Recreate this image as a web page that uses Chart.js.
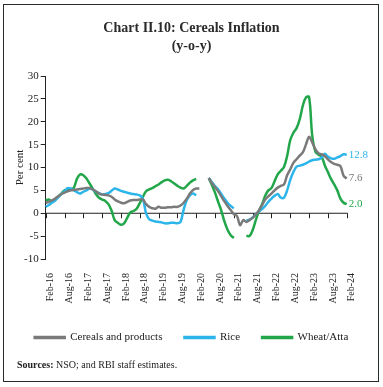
<!DOCTYPE html>
<html>
<head>
<meta charset="utf-8">
<script src="https://cdn.jsdelivr.net/npm/chart.js@4.4.0/dist/chart.umd.min.js"></script>
<style>
  body { margin: 0; background: #fff; }
  #wrap { position: relative; width: 383px; height: 387px; }
  #frame { position: absolute; left: 3px; top: 4px; width: 374px; height: 376px; border: 1px solid #2a2a2a; }
  #src { position: absolute; left: 17px; top: 359px; font: 10px "Liberation Serif", serif; color: #222; }
  canvas { position: absolute; left: 0; top: 0; }
</style>
</head>
<body>
<div id="wrap">
  <canvas id="cereals-chart" width="383" height="387"></canvas>
  <div id="frame"></div>
  <div id="src"><b>Sources:</b> NSO; and RBI staff estimates.</div>
</div>
<script>
// monthly, Feb-16 .. Feb-24
const monthNames = ['Jan','Feb','Mar','Apr','May','Jun','Jul','Aug','Sep','Oct','Nov','Dec'];
const months = [];
for (let k = 1; k <= 97; k++) {
    months.push(monthNames[k % 12] + '-' + (16 + Math.floor(k / 12)));
}

const cereals = [
    2.3, 2.5, 2.8, 3.2, 3.7, 4.2, 4.5, 4.8, 5.0, 5.1,
    5.2, 5.3, 5.4, 5.5, 5.5, 5.2, 4.8, 4.3, 4.1, 4.0,
    3.9, 3.6, 3.0, 2.6, 2.3, 2.2, 2.5, 2.8, 2.9, 2.9,
    3.0, 3.0, 2.0, 1.4, 1.1, 1.0, 1.4, 1.2, 1.2, 1.3,
    1.3, 1.4, 1.4, 1.7, 2.3, 3.2, 4.3, 5.1, 5.4, 5.4,
    null, null, 7.7, 6.6, 5.7, 4.8, 3.7, 2.6, 1.6, 0.7,
    -0.2, -0.6, -2.6, -1.5, -1.9, -1.5, -1.0, -0.3, 0.6, 1.8,
    3.0, 3.7, 4.3, 5.0, 5.6, 6.0, 6.3, 8.3, 9.6, 11.0,
    11.8, 12.6, 13.3, 15.0, 16.7, 15.5, 14.0, 13.1, 12.9, 12.5,
    11.8, 11.2, 10.8, 10.6, 10.3, 8.2, 7.6
];
const rice = [
    1.4, 1.8, 2.3, 2.8, 3.5, 4.2, 4.8, 5.5, 5.4, 5.0,
    4.6, 4.3, 4.7, 5.0, 5.4, 5.2, 4.7, 4.4, 4.1, 4.2,
    4.4, 4.9, 5.4, 5.2, 4.9, 4.7, 4.5, 4.3, 4.2, 4.1,
    3.9, 3.2, 0.0, -1.3, -1.6, -1.8, -1.9, -2.0, -2.2, -2.2,
    -2.1, -2.1, -2.2, -1.9, 0.8, 2.9, 3.9, 4.3, 3.9, null,
    null, null, 7.7, 6.8, 5.9, 5.2, 4.2, 3.2, 2.3, 1.6,
    1.1, null, null, null, -1.6, -1.4, -0.9, -0.2, 0.4, 0.9,
    1.6, 2.5, 3.2, 3.8, 4.2, 3.4, 3.4, 5.0, 7.3, 9.0,
    10.2, 10.4, 10.6, 10.9, 11.3, 11.6, 11.7, 11.8, 12.2, 13.0,
    12.4, 12.0, 11.9, 12.2, 12.5, 12.9, 12.8
];
const wheat = [
    2.8, 3.0, 2.6, 3.0, 3.6, 4.3, 5.0, 5.1, 5.2, 5.6,
    7.6, 8.5, 8.3, 7.6, 6.5, 5.4, 4.2, 3.4, 3.0, 2.7,
    2.0, 0.6, -1.5, -2.1, -2.5, -2.2, -1.0, 0.2, 0.5, 1.0,
    2.2, 3.6, 4.8, 5.2, 5.5, 5.9, 6.3, 6.8, 7.2, 7.3,
    7.0, 6.5, 6.0, 5.6, 5.4, 6.0, 6.7, 7.2, 7.5, null,
    null, null, 7.7, 6.2, 4.5, 2.5, 0.6, -1.8, -3.6, -4.8,
    -5.4, null, null, null, -4.9, -5.0, -3.7, -1.5, 0.5, 1.9,
    3.8, 5.0, 5.5, 7.0, 8.5, 9.3, 10.1, 12.5, 16.0, 17.6,
    18.6, 20.5, 23.5, 25.3, 25.4, 17.0, 13.5, 12.8, 12.4, 10.5,
    9.0, 7.5, 6.3, 5.0, 3.2, 2.3, 2.0
];

const seriesNames = ['Cereals and products', 'Rice', 'Wheat/Atta'];
const seriesColors = ['#7a7a7a', '#2bb5ea', '#22a64a'];
const serif = '"Liberation Serif", "DejaVu Serif", serif';

// zero line, x tick marks and the latest values at the line ends
const axisMarks = {
    id: 'axisMarks',
    beforeDatasetsDraw(chart) {
        const { ctx, scales: { x, y } } = chart;
        const y0 = y.getPixelForValue(0);
        ctx.save();
        ctx.strokeStyle = '#222';
        ctx.lineWidth = 1;
        ctx.beginPath();
        ctx.moveTo(x.left, y0);
        ctx.lineTo(x.right + 1, y0);
        for (let i = 0; i < months.length; i += 6) {
            const px = Math.round(x.getPixelForValue(i)) + 0.5;
            ctx.moveTo(px, y0);
            ctx.lineTo(px, y0 + 5);
        }
        ctx.stroke();
        ctx.restore();
    },
    afterDatasetsDraw(chart) {
        const ctx = chart.ctx;
        ctx.save();
        ctx.font = '11px ' + serif;
        ctx.textBaseline = 'middle';
        chart.data.datasets.forEach((ds, k) => {
            const pts = chart.getDatasetMeta(k).data;
            const last = pts[pts.length - 1];
            ctx.fillStyle = ds.borderColor;
            ctx.fillText(ds.data[ds.data.length - 1].toFixed(1), last.x + 2, last.y);
        });
        ctx.restore();
    }
};

const ctx = document.getElementById('cereals-chart').getContext('2d');
new Chart(ctx, {
    type: 'line',
    data: {
        labels: months,
        datasets: [cereals, rice, wheat].map((d, k) => ({
            label: seriesNames[k],
            data: d,
            borderColor: seriesColors[k],
            backgroundColor: seriesColors[k],
            borderWidth: 2.5,
            pointRadius: 0,
            tension: 0.35,
            spanGaps: false
        }))
    },
    options: {
        responsive: false,
        animation: false,
        layout: { padding: { left: 4, right: 4, top: 6, bottom: 34 } },
        plugins: {
            title: {
                display: true,
                text: ['Chart II.10: Cereals Inflation', '(y-o-y)'],
                color: '#2b2b2b',
                font: { family: serif, size: 14, weight: 'bold', lineHeight: 1.25 },
                padding: { top: 14, bottom: 21 }
            },
            legend: {
                position: 'bottom',
                labels: {
                    boxWidth: 30,
                    boxHeight: 1,
                    padding: 22,
                    color: '#222',
                    font: { family: serif, size: 11 }
                }
            },
            tooltip: { enabled: false }
        },
        scales: {
            x: {
                grid: { display: false },
                border: { display: false },
                ticks: {
                    autoSkip: false,
                    maxRotation: 90,
                    minRotation: 90,
                    padding: 6,
                    labelOffset: 5,
                    color: '#222',
                    font: { family: serif, size: 10 },
                    callback: (v, i) => (i % 6 === 0 ? months[i] : '')
                },
                afterFit(s) { s.height = 51; }
            },
            y: {
                min: -10,
                max: 30,
                ticks: { stepSize: 5, padding: 2, color: '#222', font: { family: serif, size: 11 } },
                grid: { drawOnChartArea: false, tickLength: 5, color: '#222' },
                border: { color: '#222' },
                title: { display: true, text: 'Per cent', color: '#222', font: { family: serif, size: 11 }, padding: 10 },
                afterFit(s) { s.width = 41.7; }
            },
            // empty room on the right for the end-value labels
            yRight: {
                position: 'right',
                ticks: { display: false },
                grid: { display: false },
                border: { display: false },
                afterFit(s) { s.width = 32.3; }
            }
        }
    },
    plugins: [axisMarks]
});
</script>
</body>
</html>
